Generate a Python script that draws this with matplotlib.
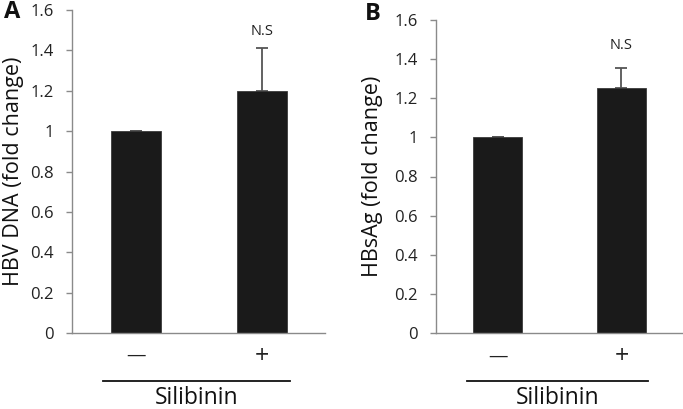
import matplotlib
matplotlib.use("Agg")
import matplotlib.pyplot as plt

plt.rcParams['font.family'] = ['Open Sans', 'DejaVu Sans']

groups = ['\u2014', '+']
hbv_dna = [1.0, 1.2]
hbv_dna_err = [0.003, 0.21]
hbsag = [1.0, 1.25]
hbsag_err = [0.003, 0.107]
yticks = [0, 0.2, 0.4, 0.6, 0.8, 1, 1.2, 1.4, 1.6]
ytick_labels = ['0', '0.2', '0.4', '0.6', '0.8', '1', '1.2', '1.4', '1.6']

fig = plt.figure(figsize=(6.83, 4.09), dpi=100)
axA = fig.add_axes([72/683, 1-333/409, 253/683, 323/409])
axB = fig.add_axes([436/683, 1-333/409, 247/683, 313/409])

spine_col = '#8a8a8a'
text_col = '#222222'

def draw(ax, vals, errs, ylabel, letter, xlim, width, letter_xy, line_x, ns_gap, ylab_x, grp_y):
    x = [0, 1]
    ax.bar(x, vals, width=width, color='#1a1a1a', edgecolor='#3a3a3a', linewidth=0.6, zorder=2)
    ax.errorbar(x, vals, yerr=[[0, 0], errs], fmt='none', ecolor='#555555',
                elinewidth=1.3, capsize=4, capthick=1.3, zorder=1)
    ax.set_ylim(0, 1.6)
    ax.set_xlim(*xlim)
    ax.set_yticks(yticks)
    ax.set_yticklabels(ytick_labels, fontsize=12, color=text_col)
    ax.set_xticks([])
    # group labels (minus / plus) under the bars
    sizes = [14, 18]
    for xi, g, fs in zip(x, groups, sizes):
        ax.text(xi, grp_y, g, transform=ax.get_xaxis_transform(), ha='center', va='center',
                fontsize=fs, color=text_col)
    ax.tick_params(axis='y', direction='out', length=4, color=spine_col, width=1, pad=9)
    for s in ['top', 'right']:
        ax.spines[s].set_visible(False)
    for s in ['left', 'bottom']:
        ax.spines[s].set_color(spine_col)
        ax.spines[s].set_linewidth(1)
    ax.set_ylabel(ylabel, fontsize=15.5, color='#111111')
    ax.yaxis.set_label_coords(ylab_x, 0.5)
    ax.text(1, vals[1] + errs[1] + ns_gap, 'N.S', ha='center', va='bottom', fontsize=10.5, color=text_col)
    # Silibinin bracket line and label
    fig.add_artist(plt.Line2D([line_x[0]/683, line_x[1]/683], [1-381/409, 1-381/409],
                              color='#111111', linewidth=1.3))
    fig.text((line_x[0]+line_x[1])/2/683, 1-404/409, 'Silibinin', ha='center', va='baseline',
             fontsize=16.5, color='#111111')
    fig.text(letter_xy[0]/683, 1-letter_xy[1]/409, letter, ha='center', va='center',
             fontsize=17, fontweight='bold', color='#111111')

draw(axA, hbv_dna, hbv_dna_err, 'HBV DNA (fold change)', 'A',
     (-0.508, 1.5), 0.397, (12, 12), (103, 290), 0.045, -0.19, -0.072)
draw(axB, hbsag, hbsag_err, 'HBsAg (fold change)', 'B',
     (-0.496, 1.496), 0.40, (373, 14), (467, 648), 0.075, -0.215, -0.075)

fig.savefig('out.png', dpi=100)
